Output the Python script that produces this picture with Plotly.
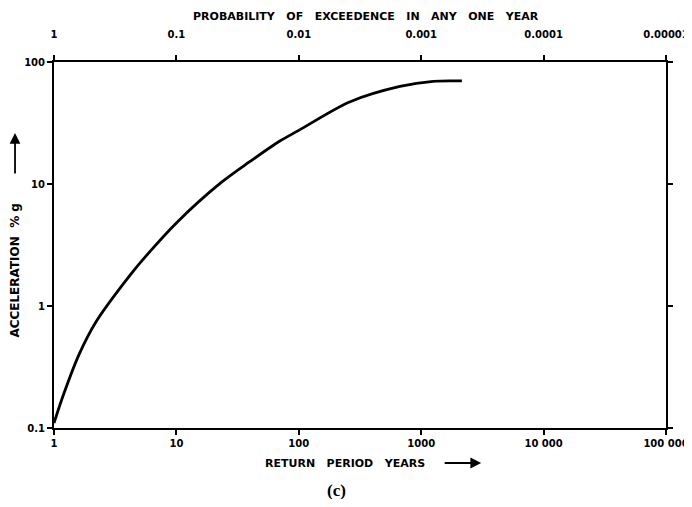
import plotly.graph_objects as go

# Data (log-log curve)
return_period_years = [1, 1.2, 1.6, 2.2, 4.2, 5.7, 10, 23, 40, 70, 100, 260, 670, 1250, 2150]
acceleration_pct_g = [0.11, 0.19, 0.40, 0.74, 1.8, 2.6, 4.8, 10.2, 15.3, 22.5, 27.5, 47, 63, 69.5, 70]

bottom_tick_vals = [1, 10, 100, 1000, 10000, 100000]
bottom_tick_text = ["1", "10", "100", "1000", "10 000", "100 000"]
top_tick_text = ["1", "0.1", "0.01", "0.001", "0.0001", "0.00001"]
left_tick_vals = [0.1, 1, 10, 100]
left_tick_text = ["0.1", "1", "10", "100"]

FONT = "DejaVu Sans"
tickfont = dict(family=FONT, size=10, color="black", weight="bold")
labfont = dict(family=FONT, size=11, color="black", weight="bold")

fig = go.Figure()
fig.add_trace(go.Scatter(
    x=return_period_years, y=acceleration_pct_g, mode="lines",
    line=dict(color="black", width=2.8, shape="spline", smoothing=0.9),
    showlegend=False, hoverinfo="skip",
))
# invisible trace on top axis
fig.add_trace(go.Scatter(
    x=[1, 100000], y=[0.1, 0.1], xaxis="x2", mode="lines",
    line=dict(color="rgba(0,0,0,0)"), showlegend=False, hoverinfo="skip",
))

axis_common = dict(
    ticks="outside", ticklen=5, tickwidth=1.5, tickcolor="black",
    showline=True, linecolor="black", linewidth=2,
    showgrid=False, zeroline=False, tickfont=tickfont, automargin=False,
)

fig.update_layout(
    width=684, height=491,
    margin=dict(l=46, r=26, t=54, b=71),
    paper_bgcolor="white", plot_bgcolor="white",
    xaxis=dict(type="log", range=[0, 5],
               tickvals=bottom_tick_vals, ticktext=bottom_tick_text, **axis_common),
    xaxis2=dict(type="log", range=[0, 5], overlaying="x", side="top",
                tickvals=bottom_tick_vals, ticktext=top_tick_text,
                ticklabelstandoff=13, **axis_common),
    yaxis=dict(type="log", range=[-1, 2], mirror="ticks",
               tickvals=left_tick_vals, ticktext=left_tick_text, **axis_common),
    annotations=[
        dict(text="PROBABILITY   OF   EXCEEDENCE   IN   ANY   ONE   YEAR",
             xref="paper", yref="paper", x=0.51, y=1, yshift=46, yanchor="middle",
             showarrow=False, font=labfont),
        dict(text="RETURN   PERIOD   YEARS",
             xref="paper", yref="paper", x=0.476, y=0, yshift=-35, yanchor="middle",
             showarrow=False, font=labfont),
        dict(text="", xref="paper", yref="paper", x=0.698, y=-0.0956,
             showarrow=True, arrowhead=2, arrowsize=1.2, arrowwidth=1.8, arrowcolor="black",
             axref="pixel", ayref="pixel", ax=-38, ay=0),
        dict(text="ACCELERATION  % g",
             xref="paper", yref="paper", x=0, xshift=-39, y=0.43, textangle=-90,
             xanchor="center", yanchor="middle",
             showarrow=False, font=dict(family=FONT, size=12, color="black", weight="bold")),
        dict(text="", xref="paper", yref="paper", x=-0.0637, y=0.806,
             showarrow=True, arrowhead=2, arrowsize=1.2, arrowwidth=1.8, arrowcolor="black",
             axref="pixel", ayref="pixel", ax=0, ay=42),
        dict(text="(c)",
             xref="paper", yref="paper", x=0.461, y=0, yshift=-62, yanchor="middle",
             showarrow=False, font=dict(family="Liberation Serif", size=17, color="black", weight="bold")),
    ],
)

fig.write_html("out.html")
